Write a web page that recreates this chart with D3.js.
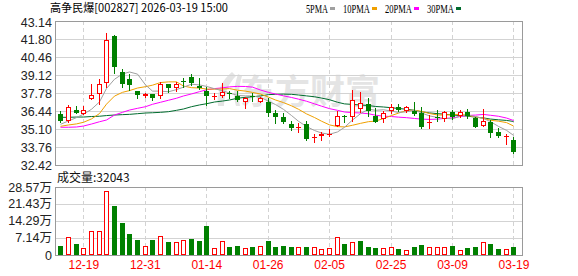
<!DOCTYPE html>
<html><head><meta charset="utf-8">
<script src="https://cdn.jsdelivr.net/npm/d3@7"></script>
<style>body{margin:0;background:#fff;} svg{display:block;font-family:"Liberation Sans",Arial,sans-serif;}</style>
</head><body>
<svg id="c" width="578" height="276"></svg>
<script>
const dates = ["2025-12-16","2025-12-17","2025-12-18","2025-12-19","2025-12-22","2025-12-23","2025-12-24","2025-12-25","2025-12-26","2025-12-29","2025-12-30","2025-12-31",
"2026-01-05","2026-01-06","2026-01-07","2026-01-08","2026-01-09","2026-01-12","2026-01-13","2026-01-14","2026-01-15","2026-01-16","2026-01-19","2026-01-20","2026-01-21","2026-01-22","2026-01-23","2026-01-26","2026-01-27","2026-01-28","2026-01-29","2026-01-30",
"2026-02-02","2026-02-03","2026-02-04","2026-02-05","2026-02-06","2026-02-09","2026-02-10","2026-02-11","2026-02-12","2026-02-13","2026-02-24","2026-02-25","2026-02-26","2026-02-27",
"2026-03-02","2026-03-03","2026-03-04","2026-03-05","2026-03-06","2026-03-09","2026-03-10","2026-03-11","2026-03-12","2026-03-13","2026-03-16","2026-03-17","2026-03-18","2026-03-19"];
const opens = [36.22,35.72,36.50,36.24,37.33,37.68,38.50,42.02,39.32,38.82,
37.93,37.53,37.71,37.53,38.45,38.13,38.64,38.99,38.30,37.93,
37.54,37.58,37.78,37.58,37.13,37.53,37.13,37.09,36.27,35.97,
35.47,35.22,35.47,34.51,34.58,34.71,35.35,36.09,36.02,36.57,
36.94,36.09,35.84,36.44,36.76,36.47,36.46,36.27,35.62,36.00,
35.84,36.37,36.07,36.34,35.90,35.35,35.64,34.85,34.56,34.28];
const closes = [35.70,36.72,36.31,36.49,37.63,38.43,41.73,39.74,38.45,38.38,
37.63,37.71,37.43,38.45,38.13,38.45,38.60,38.55,38.18,37.58,
37.58,37.83,37.74,37.26,37.43,37.49,37.39,36.27,36.02,35.64,
35.20,35.24,34.33,34.53,34.71,34.74,36.09,36.05,37.26,37.06,
36.44,35.64,36.27,36.76,36.51,36.72,36.22,35.27,35.65,35.95,
36.39,36.02,36.34,36.07,35.27,35.72,34.83,34.58,34.60,33.41];
const highs = [36.44,36.89,36.81,36.81,38.45,38.82,42.22,42.10,39.57,39.17,
37.95,37.80,37.74,38.62,38.47,38.62,38.87,39.19,38.92,38.25,
37.78,38.50,37.93,37.93,37.45,37.76,37.50,37.39,36.51,36.27,
35.70,35.52,35.70,34.71,34.85,35.10,36.44,36.12,38.00,37.83,
37.39,36.69,36.44,36.96,36.94,36.78,37.11,36.76,36.16,36.51,
36.44,36.48,36.49,36.57,36.02,36.59,35.77,35.20,34.75,34.53];
const lows = [35.60,35.65,36.31,36.19,37.33,36.98,38.25,39.29,38.20,38.00,
37.39,37.46,37.24,37.39,37.88,37.93,38.25,38.38,38.06,36.89,
37.33,37.50,37.43,37.18,36.64,37.18,37.09,36.09,35.52,35.52,
35.05,34.90,34.28,34.16,34.28,34.58,35.33,35.64,35.70,36.39,
36.07,35.62,35.64,36.27,36.44,36.40,36.14,35.20,35.15,35.70,
35.70,35.84,35.99,35.94,35.25,35.33,34.53,34.53,33.98,33.34];
const vols = [37800,74200,46200,28000,100800,100800,267500,205900,135900,88200,
63000,36400,63000,78400,54600,54600,61600,67200,58800,120400,
29400,58800,33600,37800,28000,33600,37800,60200,33600,37800,
33600,32200,33600,32200,23800,28000,74200,46200,53200,58800,
32200,28000,28000,32200,23800,19600,32200,40600,32200,32200,
32200,36400,19600,28000,32200,53200,44800,23800,23800,32043];
const volUp = [0,1,0,1,1,1,1,0,0,0, 0,1,0,1,0,1,1,0,0,0, 1,1,0,0,1,0,1,0,0,0,
0,1,0,1,1,1,1,0,1,0, 0,0,1,1,0,1,0,0,1,1, 1,0,1,0,0,1,0,0,1,0];
// moving-average values for days whose window starts before the first visible day
const ma5Head = [35.45,35.70,35.95,36.20];
const ma10Head = [35.30,35.40,35.48,35.60,35.85,36.25,36.95,37.55,37.83];
const ma20Head = [35.23,35.23,35.25,35.32,35.47,35.64,35.77,36.14,36.34,36.51,36.64,36.76,36.94,37.09,37.24,37.39,37.56,37.71,37.88];
const ma30Head = [35.97,35.97,35.99,35.99,36.03,36.05,36.10,36.14,36.17,36.19,36.24,36.29,36.31,36.34,36.39,36.49,36.59,36.76,36.89,36.98,37.11,37.18,37.26,37.39,37.46,37.50,37.56,37.66,37.68];
const priceTicks = [43.14,41.80,40.46,39.12,37.78,36.44,35.10,33.76,32.42];
const volTicks = [0,71430,142860,214290,285700];
const volTickLabels = ["0","7.14万","14.29万","21.43万","28.57万"];
const dateLabels = ["12-19","12-31","01-14","01-26","02-05","02-25","03-09","03-19"];
const title = "高争民爆[002827] 2026-03-19 15:00";
const maNames = ["5PMA","10PMA","20PMA","30PMA"];

const RED="#ff0000", GREEN="#008000", BORDER="#9a9a9a", GRID="#d3d3d3";
const maColors = ["#a0a0a0","#f0a000","#ff00ff","#006b2e"];
const L=55, R=522, T=21, B=165, VT=187, VB=255;

const svg = d3.select("#c");
const x = d3.scaleBand().domain(dates).range([56.46, 517.3]).paddingInner(0);
const cx = d => Math.round(x(d) + x.bandwidth()/2);
const y = d3.scaleLinear().domain([32.42, 43.14]).range([B, T]);
const yv = d3.scaleLinear().domain([0, 285700]).range([VB, VT]);

// watermark
const wm = svg.append("g").attr("fill","#e4e4e4");
wm.append("path").attr("d","M232,72 C222,80 216,92 218,106 L224,106 C224,94 228,84 236,76 Z M238,74 C234,86 233,96 236,106 L240,106 C238,96 239,86 242,76 Z");
wm.append("text").attr("x",240).attr("y",104).attr("font-family","Noto Sans CJK SC").attr("font-weight","bold")
  .attr("font-size",34).attr("textLength",140).attr("lengthAdjust","spacingAndGlyphs").text("东方财富");

// grids
const g = svg.append("g").attr("shape-rendering","crispEdges");
priceTicks.forEach(p => {
  const yy = Math.round(y(p)) + 0.5;
  g.append("line").attr("x1",L).attr("x2",R).attr("y1",yy).attr("y2",yy).attr("stroke",GRID);
});
volTicks.forEach(v => {
  const yy = Math.round(yv(v)) + 0.5;
  g.append("line").attr("x1",L).attr("x2",R).attr("y1",yy).attr("y2",yy).attr("stroke",GRID);
});
dates.filter(d => dateLabels.includes(d.slice(5))).forEach(d => {
  const xx = cx(d) + 0.5;
  g.append("line").attr("x1",xx).attr("x2",xx).attr("y1",T).attr("y2",B).attr("stroke",GRID).attr("stroke-dasharray","4,3");
  g.append("line").attr("x1",xx).attr("x2",xx).attr("y1",VT).attr("y2",VB).attr("stroke",GRID).attr("stroke-dasharray","4,3");
});

// moving averages
function ma(n, head) {
  return closes.map((c, i) => i < n - 1 ? head[i] : d3.mean(closes.slice(i - n + 1, i + 1)));
}
const mas = [ma(5, ma5Head), ma(10, ma10Head), ma(20, ma20Head), ma(30, ma30Head)];
const line = d3.line().x((v, i) => cx(dates[i]) + 0.5).y(v => y(v));
[3,2,1,0].forEach(k => {
  svg.append("path").attr("d", line(mas[k])).attr("fill","none").attr("stroke",maColors[k]).attr("stroke-width",1);
});

// candles
const cg = svg.append("g").attr("shape-rendering","crispEdges");
dates.forEach((d, i) => {
  const o = opens[i], c = closes[i], h = highs[i], l = lows[i];
  const up = c >= o;
  const col = up ? RED : GREEN;
  const xc = cx(d);
  const yt = Math.round(y(Math.max(o, c))), yb = Math.round(y(Math.min(o, c)));
  const yh = Math.round(y(h)), ylo = Math.round(y(l));
  if (yb - yt < 2) {
    cg.append("line").attr("x1",xc+0.5).attr("x2",xc+0.5).attr("y1",yh).attr("y2",ylo+1).attr("stroke",col);
    cg.append("rect").attr("x",xc-2).attr("y",yt).attr("width",5).attr("height",Math.max(1,yb-yt)).attr("fill",col);
  } else if (up) {
    cg.append("line").attr("x1",xc+0.5).attr("x2",xc+0.5).attr("y1",yh).attr("y2",yt).attr("stroke",col);
    cg.append("line").attr("x1",xc+0.5).attr("x2",xc+0.5).attr("y1",yb).attr("y2",ylo+1).attr("stroke",col);
    cg.append("rect").attr("x",xc-2+0.5).attr("y",yt+0.5).attr("width",4).attr("height",yb-yt-1)
      .attr("fill","#fff").attr("stroke",col);
  } else {
    cg.append("line").attr("x1",xc+0.5).attr("x2",xc+0.5).attr("y1",yh).attr("y2",ylo+1).attr("stroke",col);
    cg.append("rect").attr("x",xc-2).attr("y",yt).attr("width",5).attr("height",yb-yt).attr("fill",col);
  }
});

// volume bars
const vg = svg.append("g").attr("shape-rendering","crispEdges");
dates.forEach((d, i) => {
  const xc = cx(d);
  const yt = Math.round(yv(vols[i]));
  if (volUp[i]) {
    vg.append("rect").attr("x",xc-2+0.5).attr("y",yt+0.5).attr("width",4).attr("height",VB-yt-1)
      .attr("fill","#fff").attr("stroke",RED);
  } else {
    vg.append("rect").attr("x",xc-2).attr("y",yt).attr("width",5).attr("height",VB-yt).attr("fill",GREEN);
  }
});

// borders
const bg = svg.append("g").attr("fill","none").attr("stroke",BORDER).attr("shape-rendering","crispEdges");
bg.append("rect").attr("x",L+0.5).attr("y",T+0.5).attr("width",R-L).attr("height",B-T);
bg.append("rect").attr("x",L+0.5).attr("y",VT+0.5).attr("width",R-L).attr("height",VB-VT);

// x axis labels
const ax = d3.axisBottom(x).tickValues(dates.filter(d => dateLabels.includes(d.slice(5)))).tickFormat(d => d.slice(5)).tickSize(0).tickPadding(5);
svg.append("g").attr("transform",`translate(0.5,${VB})`).call(ax)
  .call(s => s.select(".domain").remove())
  .call(s => s.selectAll("text").attr("font-size",12).attr("fill",RED).attr("font-family","Liberation Sans"));

// header and legend
svg.append("text").attr("x",50).attr("y",12).attr("font-family","Noto Sans CJK SC").attr("font-size",11.5)
  .attr("fill","#000").attr("textLength",178).attr("lengthAdjust","spacingAndGlyphs").text(title);
const legX = [306,343,385,427], legW = [22,27,27,27];
maNames.forEach((n, k) => {
  svg.append("text").attr("x",legX[k]).attr("y",13).attr("font-family","Liberation Serif").attr("font-size",11.5)
    .attr("fill","#000").attr("textLength",legW[k]).attr("lengthAdjust","spacingAndGlyphs").text(n);
  svg.append("rect").attr("x",legX[k]+legW[k]+2).attr("y",7).attr("width",5).attr("height",3).attr("fill",maColors[k]);
});
svg.append("text").attr("x",57).attr("y",181.5).attr("font-family","Noto Sans CJK SC, Liberation Sans").attr("font-size",12)
  .attr("fill","#111").text("成交量:" + vols[vols.length-1]);

// y labels (positioned with the scales)
const fmt = d3.format(".2f");
priceTicks.forEach((p, i) => {
  svg.append("text").attr("x",L-3).attr("y",y(p) + (i === 0 ? 1.5 : 0)).attr("dy","0.36em").attr("text-anchor","end")
    .attr("font-size",12.5).attr("fill","#222").text(fmt(p));
});
volTicks.forEach((v, i) => {
  svg.append("text").attr("x",L-3).attr("y",yv(v)).attr("dy","0.36em").attr("text-anchor","end")
    .attr("font-size",12.5).attr("fill","#222").attr("font-family","Liberation Sans, Noto Sans CJK SC").text(volTickLabels[i]);
});
</script>
</body></html>
